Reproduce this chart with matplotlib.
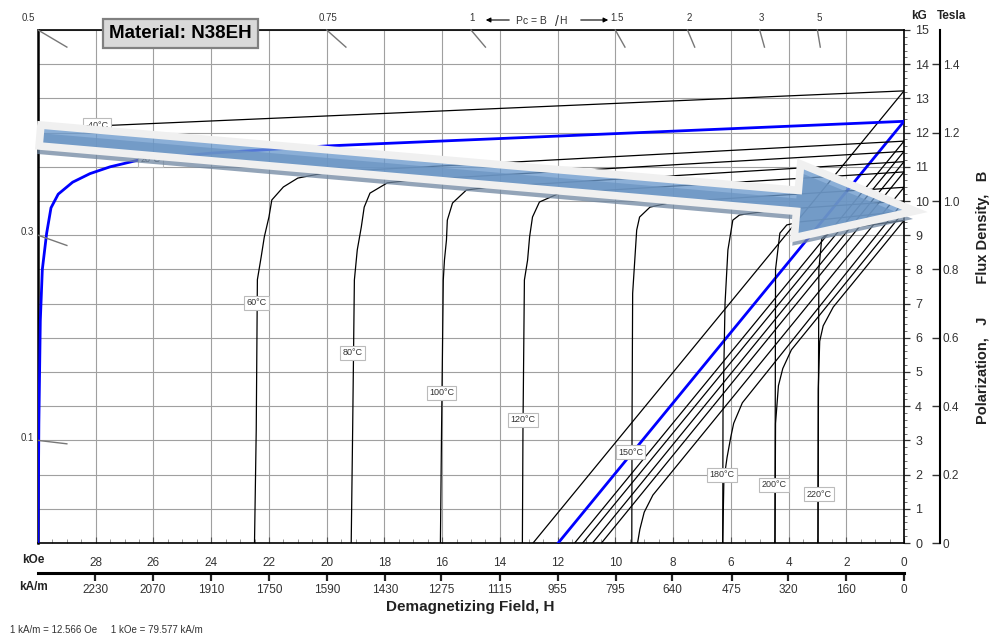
import matplotlib
matplotlib.use('Agg')
import matplotlib.pyplot as plt
from matplotlib.patches import Polygon
from matplotlib.ticker import MultipleLocator
import numpy as np

plt.rcParams['font.family'] = ['Liberation Sans', 'DejaVu Sans']

# ---------------- data (H in kOe, B/J in kG) ----------------
temp_labels = ['-40°C', '20°C', '60°C', '80°C', '100°C', '120°C', '150°C', '180°C', '200°C', '220°C']

# intrinsic (polarization J) curves
j_m40_h = [0.0, 30.0]
j_m40_b = [13.22, 12.12]
j_20_h = [0.0, 20.0, 24.0, 26.5, 27.5, 28.2, 28.8, 29.3, 29.55, 29.7, 29.85, 29.92, 29.97, 30.0]
j_20_b = [12.33, 11.61, 11.40, 11.2, 11.0, 10.8, 10.55, 10.2, 9.8, 9.06, 8.0, 6.5, 3.5, 0.0]
j_60_h = [0.0, 19.9, 21.0, 21.5, 21.9, 22.0, 22.16, 22.27, 22.4, 22.44, 22.5]
j_60_b = [11.75, 10.85, 10.67, 10.41, 10.03, 9.53, 8.95, 8.36, 7.7, 3.3, 0.0]
j_80_h = [0.0, 17.1, 17.9, 18.5, 18.7, 18.8, 18.94, 19.04, 19.1, 19.15]
j_80_b = [11.45, 10.61, 10.53, 10.23, 9.82, 9.24, 8.57, 7.69, 3.3, 0.0]
j_100_h = [0.0, 14.36, 15.16, 15.64, 15.82, 15.85, 15.92, 15.96, 16.02, 16.06]
j_100_b = [11.15, 10.41, 10.32, 9.94, 9.44, 8.86, 8.27, 7.69, 3.3, 0.0]
j_120_h = [0.0, 11.93, 12.63, 12.87, 12.97, 13.04, 13.15, 13.2, 13.22]
j_120_b = [10.85, 10.23, 9.97, 9.53, 8.95, 8.27, 7.69, 3.3, 0.0]
j_150_h = [0.0, 8.0, 8.8, 9.16, 9.26, 9.4, 9.42, 9.43]
j_150_b = [10.4, 9.97, 9.82, 9.53, 9.15, 7.3, 3.8, 0.0]
j_180_h = [0.0, 4.5, 5.7, 5.93, 6.1, 6.2, 6.27, 6.28]
j_180_b = [10.0, 9.74, 9.59, 9.44, 8.57, 7.0, 3.8, 0.0]
j_200_h = [0.0, 3.6, 4.06, 4.3, 4.45, 4.47]
j_200_b = [9.7, 9.39, 9.3, 9.06, 8.0, 0.0]
j_220_h = [0.0, 2.5, 2.85, 2.95, 2.98]
j_220_b = [9.43, 9.15, 8.9, 8.0, 0.0]

# normal (flux density B) curves
b_m40_h = [0.0, 12.85]
b_m40_b = [13.22, 0.0]
b_20_h = [0.0, 11.98]
b_20_b = [12.33, 0.0]
b_60_h = [0.0, 11.41]
b_60_b = [11.75, 0.0]
b_80_h = [0.0, 11.13]
b_80_b = [11.45, 0.0]
b_100_h = [0.0, 10.79]
b_100_b = [11.15, 0.0]
b_120_h = [0.0, 10.48]
b_120_b = [10.85, 0.0]
b_150_h = [0.0, 8.7, 9.0, 9.15, 9.23]
b_150_b = [10.4, 1.4, 0.9, 0.4, 0.0]
b_180_h = [0.0, 5.6, 5.9, 6.0, 6.13, 6.24, 6.28]
b_180_b = [10.0, 4.1, 3.5, 3.1, 2.5, 1.84, 0.0]
b_200_h = [0.0, 3.9, 4.2, 4.35, 4.45, 4.47]
b_200_b = [9.7, 5.65, 5.1, 4.6, 3.5, 0.0]
b_220_h = [0.0, 2.45, 2.8, 2.92, 2.97, 2.98]
b_220_b = [9.43, 6.9, 6.35, 5.9, 4.5, 0.0]

# label anchor points on each curve (H kOe, B kG)
label_h = [27.96, 26.1, 22.44, 19.1, 16.02, 13.2, 9.47, 6.3, 4.5, 2.95]
label_b = [12.22, 11.2, 7.02, 5.56, 4.39, 3.6, 2.66, 1.99, 1.7, 1.43]

# permeance coefficient load lines
pc_top = [0.5, 0.75, 1, 1.5, 2, 3, 5]
pc_top_labels = ['0.5', '0.75', '1', '1.5', '2', '3', '5']
pc_left = [0.3, 0.1]
pc_left_labels = ['0.3', '0.1']

koe_ticks = [28, 26, 24, 22, 20, 18, 16, 14, 12, 10, 8, 6, 4, 2, 0]
kam_ticks = [2230, 2070, 1910, 1750, 1590, 1430, 1275, 1115, 955, 795, 640, 475, 320, 160, 0]
kg_ticks = list(range(0, 16))
tesla_ticks = [0, 0.2, 0.4, 0.6, 0.8, 1.0, 1.2, 1.4]
tesla_labels = ['0', '0.2', '0.4', '0.6', '0.8', '1.0', '1.2', '1.4']

j_curves = [(j_m40_h, j_m40_b), (j_20_h, j_20_b), (j_60_h, j_60_b), (j_80_h, j_80_b),
            (j_100_h, j_100_b), (j_120_h, j_120_b), (j_150_h, j_150_b), (j_180_h, j_180_b),
            (j_200_h, j_200_b), (j_220_h, j_220_b)]
b_curves = [(b_m40_h, b_m40_b), (b_20_h, b_20_b), (b_60_h, b_60_b), (b_80_h, b_80_b),
            (b_100_h, b_100_b), (b_120_h, b_120_b), (b_150_h, b_150_b), (b_180_h, b_180_b),
            (b_200_h, b_200_b), (b_220_h, b_220_b)]

# ---------------- figure ----------------
W, HP = 993, 637
PL, PR, PT, PB = 38, 904, 30, 543
fig = plt.figure(figsize=(W / 100, HP / 100), dpi=100)
fig.patch.set_facecolor('white')
ax = fig.add_axes([PL / W, 1 - PB / HP, (PR - PL) / W, (PB - PT) / HP])
ax.set_xlim(30, 0)
ax.set_ylim(0, 15)

TXT = '#333333'
ax.set_xticks(koe_ticks)
ax.set_xticklabels([str(t) for t in koe_ticks])
ax.xaxis.set_minor_locator(MultipleLocator(0.5))
ax.tick_params(axis='x', which='major', direction='in', length=4, width=0.8, colors='#555555',
               labelcolor=TXT, labelsize=8.5, pad=10)
ax.tick_params(axis='x', which='minor', direction='in', length=3, width=0.6, colors='#888888')
ax.yaxis.tick_right()
ax.set_yticks(kg_ticks)
ax.yaxis.set_minor_locator(MultipleLocator(0.2))
ax.tick_params(axis='y', which='major', direction='out', length=4, width=0.9, colors='#333333',
               labelcolor=TXT, labelsize=9, pad=4)
ax.tick_params(axis='y', which='minor', direction='out', length=2.5, width=0.6, colors='#555555')
ax.grid(True, which='major', color='#a0a0a0', lw=0.8, zorder=0)
ax.set_axisbelow(True)
for s in ['top', 'right', 'bottom']:
    ax.spines[s].set_linewidth(1.2)
ax.spines['left'].set_linewidth(1.8)

# Tesla axis
tax = ax.secondary_yaxis(1 + 36 / (PR - PL), functions=(lambda b: b / 10.0, lambda t: t * 10.0))
tax.set_yticks(tesla_ticks)
tax.set_yticklabels(tesla_labels)
tax.tick_params(direction='in', length=6, width=1.0, colors='#333333', labelcolor=TXT,
                labelsize=8.5, pad=2)
tax.spines['right'].set_linewidth(1.5)

# kA/m axis
kax = ax.secondary_xaxis(-30 / (PB - PT), functions=(lambda h: h * 79.577, lambda k: k / 79.577))
kax.set_xticks(kam_ticks)
kax.set_xticklabels([str(t) for t in kam_ticks])
kax.tick_params(direction='out', length=6, width=1.6, colors='#222222', labelcolor=TXT,
                labelsize=8.5, pad=2)
kax.spines['bottom'].set_linewidth(2.2)

# curves
for i, ((jh, jb), (bh, bb)) in enumerate(zip(j_curves, b_curves)):
    col = '#0000ff' if temp_labels[i] == '20°C' else 'black'
    lw = 2.0 if temp_labels[i] == '20°C' else 0.9
    ax.plot(jh, jb, color=col, lw=lw, zorder=3, clip_on=True)
    ax.plot(bh, bb, color=col, lw=lw, zorder=3, clip_on=True)

for lab, h, b in zip(temp_labels, label_h, label_b):
    ax.text(h, b, lab, ha='center', va='center', fontsize=6.5, color=TXT, zorder=6,
            bbox=dict(boxstyle='square,pad=0.25', fc='white', ec='#bbbbbb', lw=0.8))

# permeance tick segments and labels
for pc, lab in zip(pc_top, pc_top_labels):
    h0 = 15.0 / pc
    ax.plot([h0, 14.5 / pc], [15.0, 14.5], color='#777777', lw=1.0, zorder=4, clip_on=False)
    if pc == 0.5:
        ax.annotate(lab, (h0, 15.0), xytext=(-2, 5), textcoords='offset points',
                    ha='right', va='bottom', fontsize=7, color=TXT, annotation_clip=False)
    else:
        ax.annotate(lab, (h0, 15.0), xytext=(1, 5), textcoords='offset points',
                    ha='center', va='bottom', fontsize=7, color=TXT, annotation_clip=False)
for pc, lab in zip(pc_left, pc_left_labels):
    b0 = 30.0 * pc
    ax.plot([30.0, 29.0], [b0, 29.0 * pc], color='#777777', lw=1.0, zorder=4)
    ax.annotate(lab, (30.0, b0), xytext=(-3, 2), textcoords='offset points',
                ha='right', va='center', fontsize=7, color=TXT, annotation_clip=False)

# ---------------- overlay (annotations in pixel space) ----------------
ov = fig.add_axes([0, 0, 1, 1], zorder=10)
ov.set_xlim(0, W)
ov.set_ylim(HP, 0)
ov.axis('off')
ov.patch.set_alpha(0)

ov.text(180.5, 33, 'Material: N38EH', ha='center', va='center', fontsize=13.5, fontweight='bold',
        color='black', bbox=dict(boxstyle='square,pad=0.32', fc='#d9d9d9', ec='#808080', lw=1.6))

# Pc = B/H annotation
ov.annotate('', xy=(483, 20), xytext=(512, 20),
            arrowprops=dict(arrowstyle='-|>', color='black', lw=0.8, mutation_scale=7))
ov.annotate('', xy=(611, 20), xytext=(578, 20),
            arrowprops=dict(arrowstyle='-|>', color='black', lw=0.8, mutation_scale=7))
ov.text(516, 21, 'Pc = B', ha='left', va='center', fontsize=7.5, color=TXT)
ov.text(555, 22, '/', ha='left', va='center', fontsize=10, color=TXT)
ov.text(559, 21, 'H', ha='left', va='center', fontsize=7.5, color=TXT)

ov.text(919, 16, 'kG', ha='center', va='center', fontsize=8.5, fontweight='bold', color='#222222')
ov.text(952, 16, 'Tesla', ha='center', va='center', fontsize=8.5, fontweight='bold', color='#222222')
ov.text(33, 560, 'kOe', ha='center', va='center', fontsize=8.5, fontweight='bold', color='#222222')
ov.text(33, 587, 'kA/m', ha='center', va='center', fontsize=8.5, fontweight='bold', color='#222222')
ov.text(470, 607, 'Demagnetizing Field, H', ha='center', va='center', fontsize=11,
        fontweight='bold', color='#222222')
ov.text(983, 297, 'Polarization,   J        Flux Density,   B', ha='center', va='center',
        rotation=90, fontsize=10.5, fontweight='bold', color='#222222')
ov.text(10, 630, '1 kA/m = 12.566 Oe     1 kOe = 79.577 kA/m', ha='left', va='center',
        fontsize=7, color=TXT)

# big decorative arrow
sx, sy, tx, ty = 40.0, 135.5, 915.0, 211.0
d = np.array([tx - sx, ty - sy])
Ltot = np.hypot(*d)
u = d / Ltot
n = np.array([-u[1], u[0]])
hw, headw, headstart = 10.5, 37.0, Ltot - 118.0
local = [(0, -hw), (headstart, -hw), (headstart, -headw), (Ltot, 0),
         (headstart, headw), (headstart, hw), (0, hw)]
pts = np.array([[sx, sy] + a * u + b * n for a, b in local])
shadow = Polygon(pts + np.array([-2, 8]), closed=True, fc='#6f86a0', ec='none', alpha=0.75)
ov.add_patch(shadow)
arrow = Polygon(pts, closed=True, fc=(0.42, 0.60, 0.80, 0.78), ec='#f0f0f0', lw=5.5,
                joinstyle='miter')
ov.add_patch(arrow)

fig.savefig('out.png', dpi=100, facecolor='white')
